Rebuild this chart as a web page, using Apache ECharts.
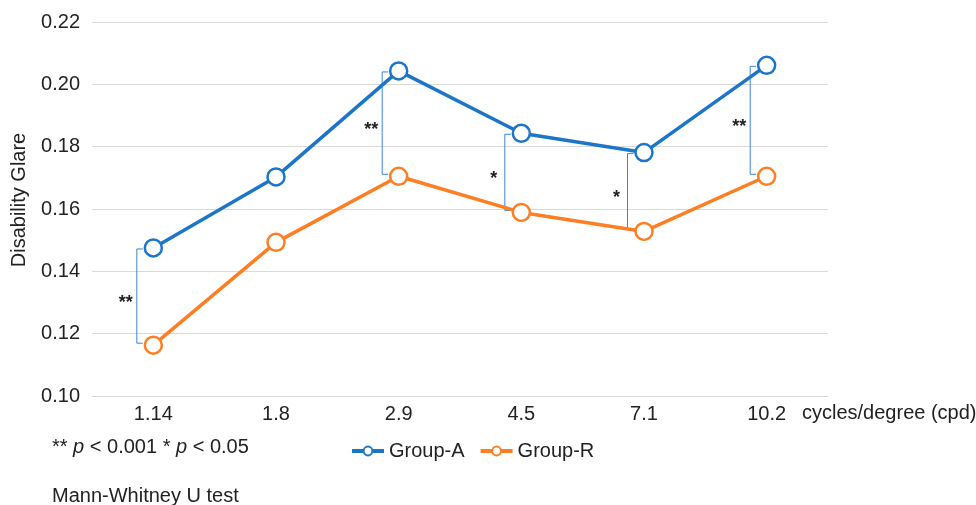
<!DOCTYPE html>
<html>
<head>
<meta charset="utf-8">
<script src="https://cdn.jsdelivr.net/npm/echarts@6/dist/echarts.min.js"></script>
<style>
  html, body { margin: 0; padding: 0; background: #fff; }
  #chart { width: 976px; height: 505px; }
</style>
</head>
<body>
<div id="chart"></div>
<script>
const categories = ['1.14', '1.8', '2.9', '4.5', '7.1', '10.2'];
const groupA = [0.1475, 0.1703, 0.2043, 0.1843, 0.1781, 0.2061];
const groupR = [0.1163, 0.1493, 0.1705, 0.1589, 0.1528, 0.1705];
const yTicks = { min: 0.10, max: 0.22, interval: 0.02 };
// significance marks: [category index, stars]
const sigMarks = [[0, '**'], [2, '**'], [3, '*'], [4, '*'], [5, '**']];

const FONT = '"Liberation Sans", Arial, sans-serif';
const FS = 20;
const BLUE = '#1c75c8';
const ORANGE = '#fd7e23';

const bracketData = sigMarks.map(m => [m[0], groupA[m[0]], groupR[m[0]], m[1]]);

const chart = echarts.init(document.getElementById('chart'));
chart.setOption({
  animation: false,
  textStyle: { fontFamily: FONT },
  grid: { left: 92, right: 148, top: 22, bottom: 109, outerBoundsMode: 'none', containLabel: false },
  legend: {
    data: ['Group-A', 'Group-R'],
    left: 345, top: 436,
    itemWidth: 32, itemHeight: 11, itemGap: 14,
    lineStyle: { width: 4 },
    textStyle: { fontSize: FS, color: '#222', fontFamily: FONT }
  },
  xAxis: {
    type: 'category',
    data: categories,
    boundaryGap: true,
    name: 'cycles/degree (cpd)',
    nameLocation: 'end',
    nameGap: -26,
    nameTextStyle: { fontSize: FS, color: '#222', align: 'left', verticalAlign: 'top', padding: [7, 0, 0, 0] },
    axisLine: { show: true, lineStyle: { color: '#d9d9d9', width: 1 } },
    axisTick: { show: false },
    axisLabel: { fontSize: FS, color: '#222', margin: 8 }
  },
  yAxis: {
    type: 'value',
    min: yTicks.min, max: yTicks.max, interval: yTicks.interval,
    name: 'Disability Glare',
    nameLocation: 'middle',
    nameGap: 63,
    nameTextStyle: { fontSize: FS, color: '#222', padding: [0, 0, 0, 18] },
    axisLine: { show: false },
    axisTick: { show: false },
    axisLabel: { fontSize: FS, color: '#222', margin: 12, formatter: v => v.toFixed(2) },
    splitLine: { lineStyle: { color: '#d9d9d9', width: 1 } }
  },
  series: [
    {
      name: 'Group-A', type: 'line', data: groupA,
      symbol: 'circle', symbolSize: 17,
      lineStyle: { color: BLUE, width: 3.5 },
      itemStyle: { color: '#fff', borderColor: BLUE, borderWidth: 2.5 },
      z: 3
    },
    {
      name: 'Group-R', type: 'line', data: groupR,
      symbol: 'circle', symbolSize: 17,
      lineStyle: { color: ORANGE, width: 3.5 },
      itemStyle: { color: '#fff', borderColor: ORANGE, borderWidth: 2.5 },
      z: 3
    },
    {
      type: 'custom',
      silent: true,
      z: 2,
      data: bracketData,
      renderItem: (params, api) => {
        const top = api.coord([api.value(0), api.value(1)]);
        const bot = api.coord([api.value(0), api.value(2)]);
        const x = top[0] - 16.5;
        const y1 = top[1] + 1, y2 = bot[1] - 2;
        const stroke = { stroke: '#3a86d4', lineWidth: 1 };
        return {
          type: 'group',
          children: [
            { type: 'polyline', shape: { points: [[x + 6, y1], [x, y1], [x, y2], [x + 6, y2]] }, style: Object.assign({ fill: null }, stroke) },
            { type: 'text', style: { text: bracketData[params.dataIndex][3], x: x - 11, y: (y1 + y2) / 2 + 7, align: 'center', verticalAlign: 'middle', font: 'bold 18px ' + FONT, fill: '#222' } }
          ]
        };
      }
    }
  ],
  graphic: [
    {
      type: 'text', left: 52, top: 437,
      style: {
        text: '** {i|p} < 0.001 * {i|p} < 0.05',
        font: FS + 'px ' + FONT, fill: '#222',
        rich: { i: { fontStyle: 'italic', fontSize: FS, fontFamily: FONT, fill: '#222' } }
      }
    },
    {
      type: 'text', left: 52, top: 486,
      style: { text: 'Mann-Whitney U test', font: FS + 'px ' + FONT, fill: '#222' }
    }
  ]
});
</script>
</body>
</html>
